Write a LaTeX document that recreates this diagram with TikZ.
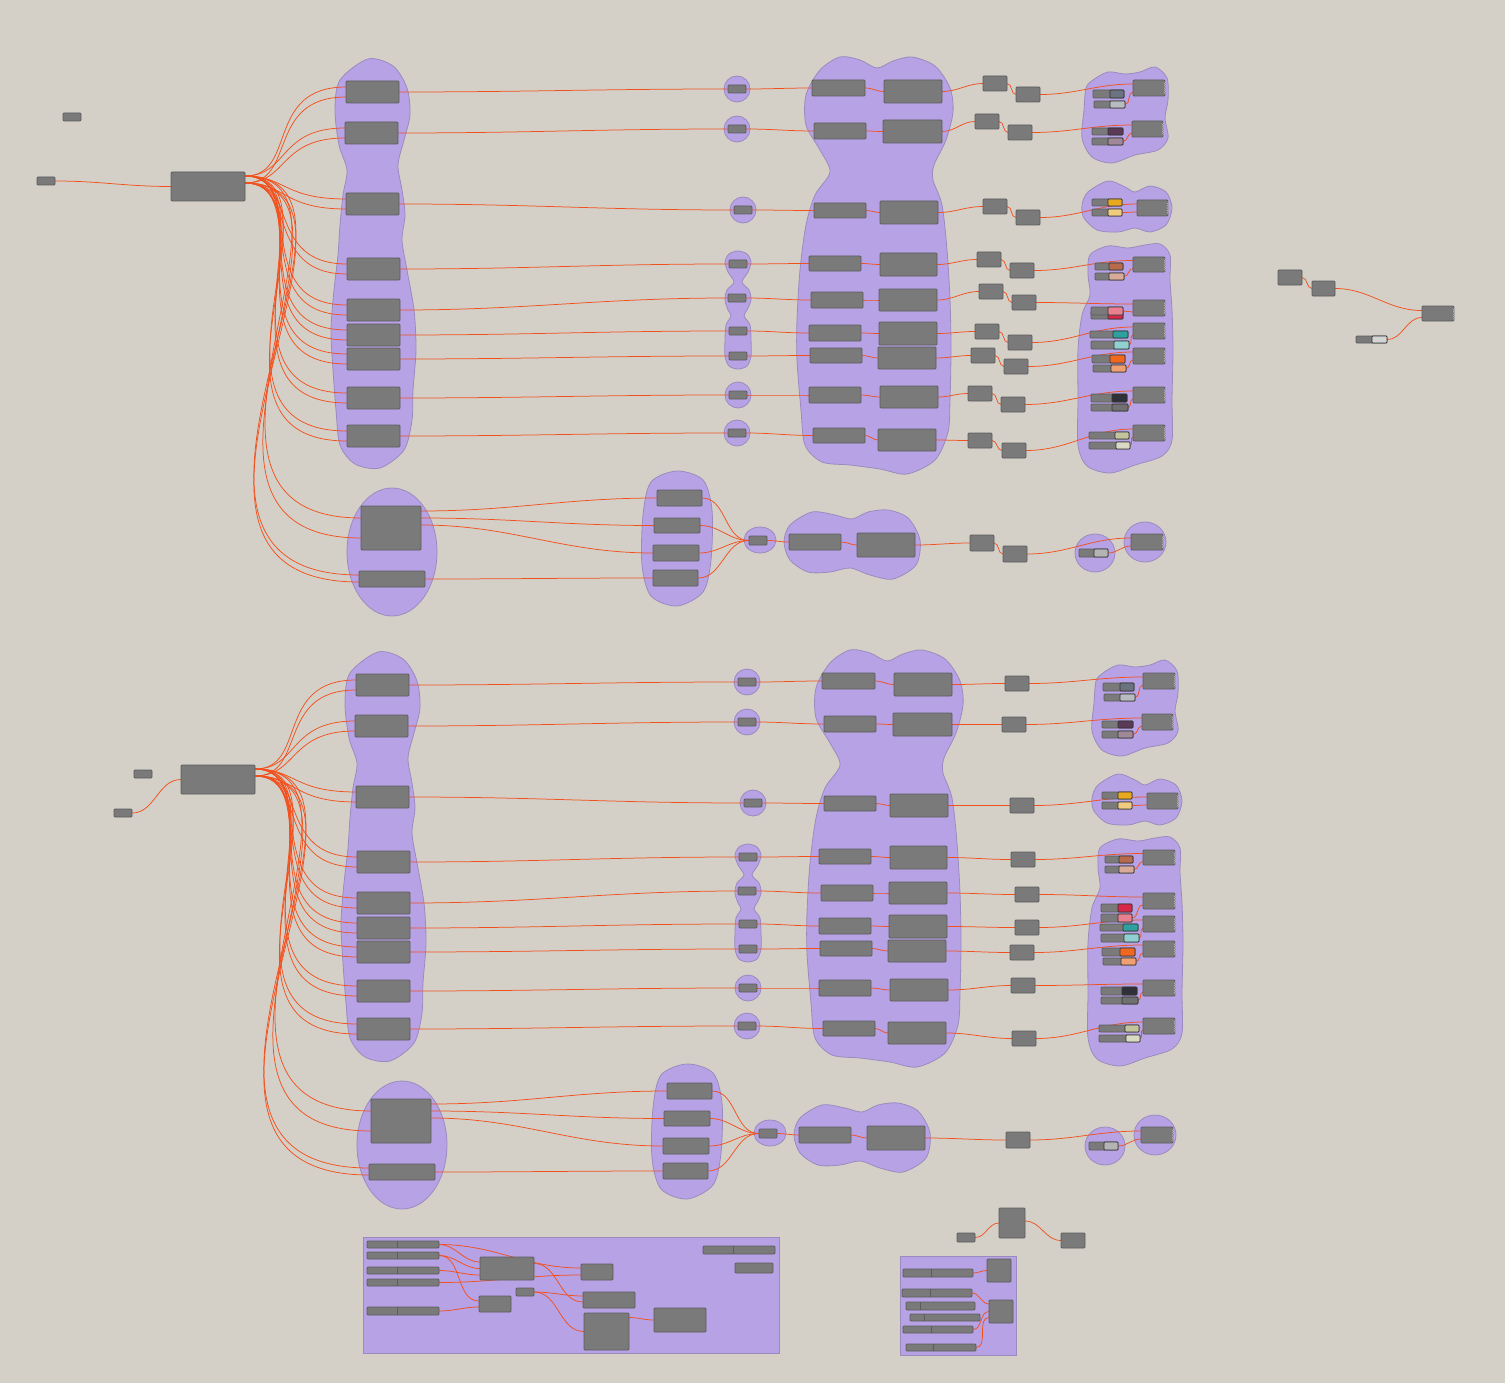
\documentclass[tikz,border=0pt]{standalone}
\usetikzlibrary{decorations.pathmorphing}
\definecolor{bgc}{HTML}{D4D0C8}
\definecolor{blobf}{HTML}{B8A2E6}
\definecolor{blobd}{HTML}{9A8BBE}
\definecolor{boxf}{HTML}{7A7A7A}
\definecolor{boxd}{HTML}{5C5C5C}
\definecolor{wirec}{HTML}{F2511E}
\definecolor{swa}{HTML}{6B7280}\definecolor{swb}{HTML}{B8BCC0}
\definecolor{swc}{HTML}{5B3A58}\definecolor{swd}{HTML}{A08898}
\definecolor{swe}{HTML}{E8A820}\definecolor{swf}{HTML}{F0CC80}
\definecolor{swg}{HTML}{B86A4C}\definecolor{swh}{HTML}{D8AA98}
\definecolor{swi}{HTML}{D82848}\definecolor{swj}{HTML}{E88090}
\definecolor{swk}{HTML}{2FA0A0}\definecolor{swl}{HTML}{90D0D0}
\definecolor{swm}{HTML}{F06820}\definecolor{swn}{HTML}{F0A070}
\definecolor{swo}{HTML}{303038}\definecolor{swp}{HTML}{707070}
\definecolor{swq}{HTML}{C4C49C}\definecolor{swr}{HTML}{DADAC4}
\definecolor{swt}{HTML}{B4B4B4}\definecolor{swu}{HTML}{D4D4D4}
\pgfdeclarelayer{bg}
\pgfdeclarelayer{wl}
\pgfsetlayers{bg,wl,main}
\tikzset{
 gb/.style={draw=boxd,fill=boxf,line width=0.8pt,rounded corners=1pt,inner sep=0pt,outer sep=0pt,anchor=north west},
 blob/.style={fill=blobf,draw=blobd,line width=0.8pt},
 w/.style={draw=wirec,line width=0.75pt},
 fan/.style={out=0,in=180,out looseness=1.0,in looseness=1.55},
 cpart/.style={draw=black!80,line width=0.7pt,rounded corners=0.8pt},
 zzs/.style={draw=boxf!55!white,line width=0.5pt,decorate,decoration={zigzag,segment length=2.4pt,amplitude=0.7pt}},
}
\newcommand\gbox[5]{\node[gb,minimum width=#4pt,minimum height=#5pt] (#1) at (#2,#3) {};}
\newcommand\gsw[7]{\node[gb,minimum width=#4pt,minimum height=#5pt] (#1) at (#2,#3) {};\draw[cpart,fill=#7] (#6,#3) rectangle ({#2+#4},{#3+#5});}
\newcommand\gbar[6]{\node[gb,minimum width=#4pt,minimum height=#5pt] (#1) at (#2,#3) {};\draw[draw=boxd,line width=0.8pt] (#6,#3) -- (#6,{#3+#5});}
\newcommand\gw[2]{\begin{pgfonlayer}{wl}\draw[w] (#1) to[out=0,in=180] (#2);\end{pgfonlayer}}
\newcommand\gf[2]{\begin{pgfonlayer}{wl}\draw[w] (#1) to[fan] (#2);\end{pgfonlayer}}
\newcommand\gzz[1]{\draw[zzs] ([yshift=-1.5pt]#1.north east) -- ([yshift=1.5pt]#1.south east);}
\newcommand\gblob[1]{\begin{pgfonlayer}{bg}\draw[blob] plot[smooth cycle] coordinates {#1};\end{pgfonlayer}}
\newcommand\gell[3]{\begin{pgfonlayer}{bg}\draw[blob] (#1) ellipse[x radius=#2pt,y radius=#3pt];\end{pgfonlayer}}
\newcommand\fanB[2]{\gf{[yshift=10.5pt]#1M.east}{[yshift=5pt]#1#2.west}\gf{[yshift=3.5pt]#1M.east}{[yshift=-5pt]#1#2.west}}

\newcommand\sectA[1]{%
% groups
\gblob{(368,59) (393,66) (407,88) (410,115) (404,140) (398,165) (402,190) (405,215) (402,240) (407,270) (414,310) (416,350) (413,390) (412,420) (404,450) (380,468) (355,464) (340,445) (336,410) (333,370) (331,330) (334,290) (338,255) (340,225) (343,195) (347,170) (339,145) (335,110) (340,80)}
\gell{737,89}{13}{13}\gell{737,129}{13}{13}\gell{743,210}{13}{13}\gell{738,395}{13}{13}\gell{737,433}{13}{13}
\gblob{(738,251) (747,254) (751,262) (748,272) (742,282) (749,290) (751,300) (747,310) (744,316) (750,325) (751,340) (751,356) (747,366) (738,369) (729,366) (725,356) (725,340) (726,325) (731,316) (728,310) (725,300) (727,290) (734,282) (728,272) (725,262) (729,254)}
\gblob{(820,70) (840,57) (860,60) (877,68) (893,61) (912,57) (935,66) (950,88) (953,112) (946,140) (934,165) (933,180) (942,205) (947,250) (950,300) (951,350) (950,400) (948,432) (935,460) (907,474) (880,469) (850,465) (822,462) (805,445) (801,410) (797,360) (797,320) (800,270) (806,225) (815,195) (830,172) (820,150) (806,125) (806,95)}
\gblob{(1093,80) (1108,72) (1125,74) (1140,72) (1155,67) (1167,78) (1168,100) (1165,118) (1168,138) (1158,150) (1135,155) (1112,163) (1092,157) (1082,138) (1084,110) (1086,88)}
\gblob{(1088,192) (1108,181) (1125,187) (1135,192) (1150,186) (1166,192) (1172,208) (1166,225) (1150,232) (1135,228) (1118,232) (1097,230) (1084,218) (1082,205)}
\gblob{(1090,255) (1108,246) (1128,248) (1145,245) (1160,244) (1170,255) (1170,280) (1172,310) (1173,350) (1172,400) (1172,440) (1162,456) (1135,465) (1110,473) (1087,466) (1078,445) (1078,400) (1078,350) (1082,315) (1090,295) (1088,275)}
\gell{392,552}{45}{64}
\gblob{(677,471) (703,480) (712,510) (711,560) (703,592) (677,606) (651,596) (642,565) (643,515) (651,482)}
\gell{760,540}{16}{13}
\gblob{(790,525) (812,512) (835,515) (852,519) (868,512) (888,510) (908,518) (920,540) (916,565) (893,579) (870,575) (850,568) (830,572) (808,572) (790,560) (784,542)}
\gell{1095,553}{20}{19}
\gell{1145,542}{21}{20}
% components
\gbox{#1M}{171}{172}{74}{29}
\gbox{#1B1}{346}{81}{53}{22}\gbox{#1B2}{345}{122}{53}{22}\gbox{#1B3}{346}{193}{53}{22}
\gbox{#1B4}{347}{258}{53}{22}\gbox{#1B5}{347}{299}{53}{22}\gbox{#1B6}{347}{324}{53}{22}
\gbox{#1B7}{347}{348}{53}{22}\gbox{#1B8}{347}{387}{53}{22}\gbox{#1B9}{347}{425}{53}{22}
\gbox{#1C1}{728}{85}{18}{8}\gbox{#1C2}{728}{125}{18}{8}\gbox{#1C3}{734}{206}{18}{8}
\gbox{#1C4}{729}{260}{18}{8}\gbox{#1C5}{728}{294}{18}{8}\gbox{#1C6}{729}{327}{18}{8}
\gbox{#1C7}{729}{352}{18}{8}\gbox{#1C8}{729}{391}{18}{8}\gbox{#1C9}{728}{429}{18}{8}
\gbox{#1D1}{812}{80}{53}{16}\gbox{#1D2}{814}{123}{52}{16}\gbox{#1D3}{814}{203}{52}{15}
\gbox{#1D4}{809}{256}{52}{15}\gbox{#1D5}{811}{292}{52}{16}\gbox{#1D6}{809}{325}{52}{16}
\gbox{#1D7}{810}{348}{52}{15}\gbox{#1D8}{809}{387}{52}{16}\gbox{#1D9}{813}{428}{52}{15}
\gbox{#1E1}{884}{80}{58}{23}\gbox{#1E2}{883}{120}{59}{23}\gbox{#1E3}{880}{201}{58}{23}
\gbox{#1E4}{880}{253}{57}{23}\gbox{#1E5}{879}{289}{58}{22}\gbox{#1E6}{879}{322}{58}{23}
\gbox{#1E7}{878}{347}{58}{22}\gbox{#1E8}{880}{386}{58}{22}\gbox{#1E9}{878}{429}{58}{22}
\gbox{#1H1}{1133}{80}{32}{16}\gbox{#1H2}{1132}{121}{31}{16}\gbox{#1H3}{1137}{200}{31}{16}
\gbox{#1H4}{1133}{257}{32}{15}\gbox{#1H5}{1133}{300}{32}{16}\gbox{#1H6}{1133}{323}{32}{16}
\gbox{#1H7}{1133}{348}{32}{16}\gbox{#1H8}{1133}{387}{32}{16}\gbox{#1H9}{1133}{425}{32}{16}
\gsw{#1S1a}{1093}{90}{31}{8}{1110}{swa}\gsw{#1S1b}{1094}{101}{31}{7}{1110}{swb}
\gsw{#1S2a}{1092}{128}{31}{7}{1108}{swc}\gsw{#1S2b}{1092}{138}{31}{7}{1108}{swd}
\gsw{#1S3a}{1092}{199}{30}{7}{1108}{swe}\gsw{#1S3b}{1092}{209}{30}{7}{1108}{swf}
\gsw{#1S4a}{1095}{263}{28}{7}{1109}{swg}\gsw{#1S4b}{1095}{273}{29}{7}{1109}{swh}
\gsw{#1S6a}{1090}{331}{38}{7}{1113}{swk}\gsw{#1S6b}{1091}{341}{38}{8}{1114}{swl}
\gsw{#1S7a}{1092}{355}{33}{8}{1110}{swm}\gsw{#1S7b}{1093}{365}{33}{7}{1111}{swn}
\gsw{#1S8a}{1091}{394}{36}{8}{1112}{swo}\gsw{#1S8b}{1091}{404}{37}{7}{1112}{swp}
\gsw{#1S9a}{1089}{432}{40}{7}{1115}{swq}\gsw{#1S9b}{1089}{442}{41}{7}{1116}{swr}
\gbox{#1K1}{361}{506}{60}{44}\gbox{#1K2}{359}{571}{66}{16}
\gbox{#1L1}{657}{490}{45}{16}\gbox{#1L2}{654}{518}{46}{15}\gbox{#1L3}{653}{545}{46}{16}\gbox{#1L4}{653}{570}{45}{16}
\gbox{#1N}{749}{536}{18}{9}
\gbox{#1P1}{789}{534}{52}{16}\gbox{#1P2}{857}{533}{58}{24}
\gsw{#1T}{1079}{549}{29}{8}{1094}{swt}
\gbox{#1H10}{1131}{534}{32}{16}
\gzz{#1H1}\gzz{#1H2}\gzz{#1H3}\gzz{#1H4}\gzz{#1H5}\gzz{#1H6}\gzz{#1H7}\gzz{#1H8}\gzz{#1H9}\gzz{#1H10}
% wires
\fanB{#1}{B1}\fanB{#1}{B2}\fanB{#1}{B3}\fanB{#1}{B4}\fanB{#1}{B5}\fanB{#1}{B6}\fanB{#1}{B7}\fanB{#1}{B8}\fanB{#1}{B9}
\gf{[yshift=10.5pt]#1M.east}{[yshift=10pt]#1K1.west}\gf{[yshift=3.5pt]#1M.east}{[yshift=-10pt]#1K1.west}
\gf{[yshift=10.5pt]#1M.east}{[yshift=4pt]#1K2.west}\gf{[yshift=3.5pt]#1M.east}{[yshift=-3pt]#1K2.west}
\gw{#1B1.east}{#1C1.west}\gw{#1B2.east}{#1C2.west}\gw{#1B3.east}{#1C3.west}
\gw{#1B4.east}{#1C4.west}\gw{#1B5.east}{#1C5.west}\gw{#1B6.east}{#1C6.west}
\gw{#1B7.east}{#1C7.west}\gw{#1B8.east}{#1C8.west}\gw{#1B9.east}{#1C9.west}
\gw{#1C1.east}{#1D1.west}\gw{#1C2.east}{#1D2.west}\gw{#1C3.east}{#1D3.west}
\gw{#1C4.east}{#1D4.west}\gw{#1C5.east}{#1D5.west}\gw{#1C6.east}{#1D6.west}
\gw{#1C7.east}{#1D7.west}\gw{#1C8.east}{#1D8.west}\gw{#1C9.east}{#1D9.west}
\gw{#1D1.east}{#1E1.west}\gw{#1D2.east}{#1E2.west}\gw{#1D3.east}{#1E3.west}
\gw{#1D4.east}{#1E4.west}\gw{#1D5.east}{#1E5.west}\gw{#1D6.east}{#1E6.west}
\gw{#1D7.east}{#1E7.west}\gw{#1D8.east}{#1E8.west}\gw{#1D9.east}{#1E9.west}
\gw{#1S1b.east}{[yshift=-4pt]#1H1.west}\gw{#1S2b.east}{[yshift=-4pt]#1H2.west}
\gw{#1S3b.east}{[yshift=-4pt]#1H3.west}\gw{#1S4b.east}{[yshift=-4pt]#1H4.west}
\gw{#1S6b.east}{[yshift=-4pt]#1H6.west}\gw{#1S7b.east}{[yshift=-4pt]#1H7.west}
\gw{#1S8b.east}{[yshift=-4pt]#1H8.west}\gw{#1S9b.east}{[yshift=-4pt]#1H9.west}
\gw{[yshift=17pt]#1K1.east}{#1L1.west}\gw{[yshift=10pt]#1K1.east}{#1L2.west}
\gw{[yshift=3pt]#1K1.east}{#1L3.west}\gw{#1K2.east}{#1L4.west}
\gw{#1L1.east}{#1N.west}\gw{#1L2.east}{#1N.west}\gw{#1L3.east}{#1N.west}\gw{#1L4.east}{#1N.west}
\gw{#1N.east}{#1P1.west}\gw{#1P1.east}{#1P2.west}
\gw{#1T.east}{[yshift=-4pt]#1H10.west}
}

\begin{document}
\begin{tikzpicture}[x=1pt,y=-1pt]
\useasboundingbox (0,0) rectangle (1505,1383);
\begin{pgfonlayer}{bg}\fill[bgc] (0,0) rectangle (1505,1383);\end{pgfonlayer}

% ---------------- top section
\begin{scope}
\sectA{t}
\gbox{tF1}{983}{76}{24}{15}\gbox{tF2}{975}{114}{24}{15}\gbox{tF3}{983}{199}{24}{15}
\gbox{tF4}{977}{252}{24}{15}\gbox{tF5}{979}{284}{24}{15}\gbox{tF6}{975}{324}{24}{15}
\gbox{tF7}{971}{348}{24}{15}\gbox{tF8}{968}{386}{24}{15}\gbox{tF9}{968}{433}{24}{15}
\gbox{tG1}{1016}{87}{24}{15}\gbox{tG2}{1008}{125}{24}{15}\gbox{tG3}{1016}{210}{24}{15}
\gbox{tG4}{1010}{263}{24}{15}\gbox{tG5}{1012}{295}{24}{15}\gbox{tG6}{1008}{335}{24}{15}
\gbox{tG7}{1004}{359}{24}{15}\gbox{tG8}{1001}{397}{24}{15}\gbox{tG9}{1002}{443}{24}{15}
\gsw{tS5a}{1091}{311}{32}{8}{1108}{swi}
\gsw{tS5b}{1091}{307}{32}{8}{1108}{swj}
\gbox{tQ1}{970}{535}{24}{16}\gbox{tQ2}{1003}{546}{24}{16}
\gw{tE1.east}{tF1.west}\gw{tE2.east}{tF2.west}\gw{tE3.east}{tF3.west}
\gw{tE4.east}{tF4.west}\gw{tE5.east}{tF5.west}\gw{tE6.east}{tF6.west}
\gw{tE7.east}{tF7.west}\gw{tE8.east}{tF8.west}\gw{tE9.east}{tF9.west}
\gw{tF1.east}{tG1.west}\gw{tF2.east}{tG2.west}\gw{tF3.east}{tG3.west}
\gw{tF4.east}{tG4.west}\gw{tF5.east}{tG5.west}\gw{tF6.east}{tG6.west}
\gw{tF7.east}{tG7.west}\gw{tF8.east}{tG8.west}\gw{tF9.east}{tG9.west}
\gw{tG1.east}{[yshift=4pt]tH1.west}\gw{tG2.east}{[yshift=4pt]tH2.west}\gw{tG3.east}{[yshift=4pt]tH3.west}
\gw{tG4.east}{[yshift=4pt]tH4.west}\gw{tG5.east}{[yshift=4pt]tH5.west}\gw{tG6.east}{[yshift=4pt]tH6.west}
\gw{tG7.east}{[yshift=4pt]tH7.west}\gw{tG8.east}{[yshift=4pt]tH8.west}\gw{tG9.east}{[yshift=4pt]tH9.west}
\gw{tS5b.east}{[yshift=-4pt]tH5.west}
\gw{tP2.east}{tQ1.west}\gw{tQ1.east}{tQ2.west}\gw{tQ2.east}{[yshift=4pt]tH10.west}
\end{scope}

% ---------------- bottom section
\begin{scope}[shift={(10,593)}]
\sectA{u}
\gbox{uG1}{995}{83}{24}{15}\gbox{uG2}{992}{124}{24}{15}\gbox{uG3}{1000}{205}{24}{15}
\gbox{uG4}{1001}{259}{24}{15}\gbox{uG5}{1005}{294}{24}{15}\gbox{uG6}{1005}{327}{24}{15}
\gbox{uG7}{1000}{352}{24}{15}\gbox{uG8}{1001}{385}{24}{15}\gbox{uG9}{1002}{438}{24}{15}
\gsw{uS5a}{1091}{311}{31}{8}{1108}{swi}
\gsw{uS5b}{1091}{321}{31}{8}{1108}{swj}
\gbox{uQ}{996}{539}{24}{16}
\gw{uE1.east}{uG1.west}\gw{uE2.east}{uG2.west}\gw{uE3.east}{uG3.west}
\gw{uE4.east}{uG4.west}\gw{uE5.east}{uG5.west}\gw{uE6.east}{uG6.west}
\gw{uE7.east}{uG7.west}\gw{uE8.east}{uG8.west}\gw{uE9.east}{uG9.west}
\gw{uG1.east}{[yshift=4pt]uH1.west}\gw{uG2.east}{[yshift=4pt]uH2.west}\gw{uG3.east}{[yshift=4pt]uH3.west}
\gw{uG4.east}{[yshift=4pt]uH4.west}\gw{uG5.east}{[yshift=4pt]uH5.west}\gw{uG6.east}{[yshift=4pt]uH6.west}
\gw{uG7.east}{[yshift=4pt]uH7.west}\gw{uG8.east}{[yshift=4pt]uH8.west}\gw{uG9.east}{[yshift=4pt]uH9.west}
\gw{uS5b.east}{[yshift=-4pt]uH5.west}
\gw{uP2.east}{uQ.west}\gw{uQ.east}{[yshift=4pt]uH10.west}
\end{scope}

% ---------------- loose inputs
\gbox{A0}{63}{113}{18}{8}\gbox{A1}{37}{177}{18}{8}
\gbox{A2}{134}{770}{18}{8}\gbox{A3}{114}{809}{18}{8}
\gw{A1.east}{tM.west}
\gw{A3.east}{uM.west}

% ---------------- far right group
\gbox{R1}{1278}{270}{24}{15}\gbox{R2}{1312}{281}{23}{15}\gbox{R3}{1422}{306}{32}{15}
\gsw{R4}{1356}{336}{31}{7}{1372}{swu}
\gzz{R3}
\gw{R1.east}{R2.west}\gw{R2.east}{[yshift=3pt]R3.west}\gw{R4.east}{[yshift=-4pt]R3.west}

% ---------------- bottom panel 1
\begin{pgfonlayer}{bg}\draw[blob] (363,1237) rectangle (779,1353);\end{pgfonlayer}
\gbar{T1}{367}{1241}{72}{7}{397}\gbar{T2}{367}{1252}{72}{7}{397}\gbar{T3}{367}{1267}{72}{7}{397}
\gbar{T4}{367}{1279}{72}{7}{397}\gbar{T5}{367}{1307}{72}{8}{397}\gbar{T6}{703}{1246}{72}{8}{733}
\gbox{U1}{480}{1257}{54}{23}\gbox{U2}{479}{1296}{32}{16}\gbox{U3}{516}{1288}{18}{8}
\gbox{U4}{581}{1264}{32}{16}\gbox{U5}{583}{1292}{52}{16}\gbox{U6}{584}{1313}{45}{37}
\gbox{U7}{654}{1308}{52}{24}\gbox{U8}{735}{1263}{38}{10}
\gw{T1.east}{[yshift=6.5pt]U1.west}
\gw{T1.east}{[yshift=4pt]U4.west}
\gw{T2.east}{U1.west}
\gw{T2.east}{[yshift=3pt]U2.west}
\gw{T3.east}{[yshift=-6.5pt]U1.west}
\gw{T4.east}{[yshift=-3pt]U4.west}
\gw{T5.east}{[yshift=-3pt]U2.west}
\gw{[yshift=5pt]U1.east}{[yshift=-2pt]U5.west}
\gw{U3.east}{[yshift=4pt]U5.west}
\gw{U3.east}{U6.west}
\gw{[yshift=14pt]U6.east}{U7.west}

% ---------------- bottom panel 2
\gbox{V1}{957}{1233}{18}{9}\gbox{V2}{999}{1208}{26}{30}\gbox{V3}{1061}{1233}{24}{15}
\gw{V1.east}{V2.west}\gw{[yshift=2pt]V2.east}{V3.west}
\begin{pgfonlayer}{bg}\draw[blob] (900,1256) rectangle (1016,1355);\end{pgfonlayer}
\gbar{W1}{903}{1269}{70}{8}{931}\gbar{W2}{902}{1289}{70}{8}{930}\gbar{W3}{906}{1302}{69}{8}{920}
\gbar{W4}{910}{1314}{70}{7}{924}\gbar{W5}{903}{1326}{70}{7}{931}\gbar{W6}{906}{1344}{70}{7}{933}
\gbox{X1}{987}{1259}{24}{23}\gbox{X2}{989}{1300}{24}{23}
\gw{W1.east}{X1.west}
\gw{W2.east}{[yshift=7.5pt]X2.west}
\gw{W5.east}{X2.west}
\gw{W6.east}{[yshift=-6pt]X2.west}
\end{tikzpicture}
\end{document}
